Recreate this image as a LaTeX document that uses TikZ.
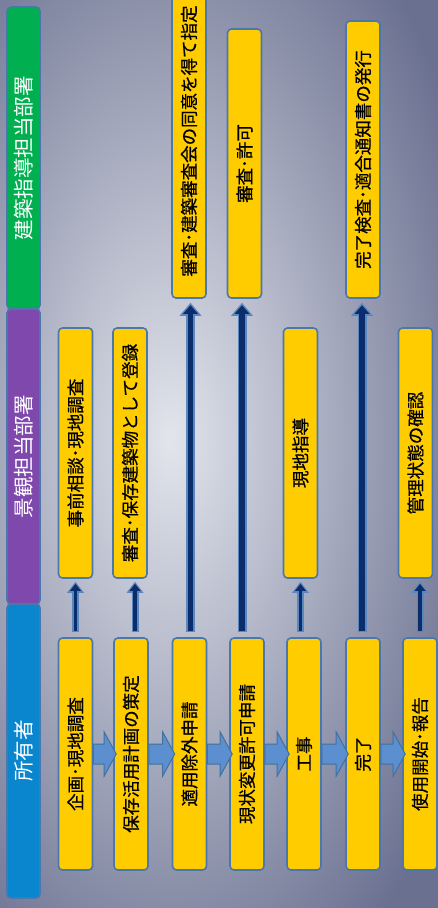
\documentclass[tikz,border=0pt]{standalone}
\usepackage{fontspec}
\usepackage{graphicx}
\setmainfont{Noto Sans CJK JP}
\newfontfamily\boxfam{Noto Sans CJK JP}[FakeBold=0.6]
\usetikzlibrary{arrows.meta,calc}

\definecolor{bgin}{HTML}{E2E5EC}
\definecolor{bgout}{HTML}{6A7090}
\definecolor{boxfill}{HTML}{FFCC00}
\definecolor{boxedge}{HTML}{4A77AC}
\definecolor{lanegreen}{HTML}{00B050}
\definecolor{lanepurple}{HTML}{7F48AD}
\definecolor{laneblue}{HTML}{0A86CF}
\definecolor{blkfill}{HTML}{5B8FCF}
\definecolor{blkedge}{HTML}{41719C}
\definecolor{arrowrim}{HTML}{5A87C0}
\definecolor{arrowcore}{HTML}{0C2D6B}

\newcommand{\boxfont}{\boxfam\fontsize{17.5}{19}\selectfont}
\newcommand{\lanefont}{\fontsize{20.5}{22}\selectfont}

\begin{document}
\begin{tikzpicture}[x=1pt, y=-1pt,
    box/.style={draw=boxedge, line width=1.6pt, fill=boxfill, rounded corners=4pt,
      inner sep=0pt, minimum width=34pt, font=\boxfont},
    lane/.style={draw=boxedge, line width=1.6pt, rounded corners=4pt, inner sep=0pt,
      minimum width=33pt, text=white, font=\lanefont},
    blockarrow/.style={fill=blkfill, draw=blkedge, line width=1pt},
    rimshort/.style={arrowrim, line width=7pt, shorten <=5pt, shorten >=3pt,
      -{Triangle[width=17pt, length=11pt, line width=0pt]}},
    coreshort/.style={arrowcore, line width=3.5pt, shorten <=6.5pt, shorten >=5pt,
      -{Triangle[width=11pt, length=7pt, line width=0pt]}},
    rimlong/.style={arrowrim, line width=9pt, shorten <=5pt, shorten >=4pt,
      -{Triangle[width=22pt, length=13pt, line width=0pt]}},
    corelong/.style={arrowcore, line width=5.5pt, shorten <=6.5pt, shorten >=6.5pt,
      -{Triangle[width=15pt, length=8.5pt, line width=0pt]}}]

    \useasboundingbox (0,0) rectangle (438,908);
    % background
    \begin{scope}
      \clip (0,0) rectangle (438,908);
      \shade[inner color=bgin, outer color=bgout] (-160,-180) rectangle (500,1060);
    \end{scope}

    % lanes
    \node[lane, fill=lanegreen, minimum height=302pt] (kenchiku) at (23.5,158) {\rotatebox{90}{建築指導担当部署}};
    \node[lane, fill=lanepurple, minimum height=295pt] (keikan) at (23.5,456.5) {\rotatebox{90}{景観担当部署}};
    \node[lane, fill=laneblue, minimum height=294pt] (shoyu) at (23.5,751) {\rotatebox{90}{所有者}};

    % owner row
    \node[box, minimum height=232pt] (b1) at (75.5,754) {\rotatebox{90}{企画･現地調査}};
    \node[box, minimum height=232pt] (b2) at (131,754) {\rotatebox{90}{保存活用計画の策定}};
    \node[box, minimum height=232pt] (b3) at (189.5,754) {\rotatebox{90}{適用除外申請}};
    \node[box, minimum height=232pt] (b4) at (247,754) {\rotatebox{90}{現状変更許可申請}};
    \node[box, minimum height=232pt] (b5) at (304,754) {\rotatebox{90}{工事}};
    \node[box, minimum height=232pt] (b6) at (363,754) {\rotatebox{90}{完了}};
    \node[box, minimum height=232pt] (b7) at (420,754) {\rotatebox{90}{使用開始･報告}};

    % landscape row
    \node[box, minimum height=250pt] (m1) at (75.5,453) {\rotatebox{90}{事前相談･現地調査}};
    \node[box, minimum height=250pt] (m2) at (130,453) {\rotatebox{90}{審査･保存建築物として登録}};
    \node[box, minimum height=250pt] (m5) at (300.5,453) {\rotatebox{90}{現地指導}};
    \node[box, minimum height=250pt] (m7) at (415.5,453) {\rotatebox{90}{管理状態の確認}};

    % building row
    \node[box, minimum height=314pt] (t3) at (189,141) {\rotatebox{90}{審査･建築審査会の同意を得て指定}};
    \node[box, minimum height=269pt] (t4) at (244.5,163.5) {\rotatebox{90}{審査･許可}};
    \node[box, minimum height=277pt] (t6) at (363,159.5) {\rotatebox{90}{完了検査･適合通知書の発行}};

    % flow of the owner
    \foreach \a/\b in {b1/b2, b2/b3, b3/b4, b4/b5, b5/b6, b6/b7}
      \draw[blockarrow] ($(\a.east)+(0,-10)$) -- ($(\b.west)+(-9,-10)$) -- ($(\b.west)+(-9,-22)$)
        -- ($(\b.west)+(3,0)$) -- ($(\b.west)+(-9,22)$) -- ($(\b.west)+(-9,10)$)
        -- ($(\a.east)+(0,10)$) -- cycle;

    % up to the departments
    \foreach \a/\b/\dx in {b1/m1/0, b2/m2/4, b5/m5/-3.5, b7/m7/0} {
      \draw[rimshort] ([xshift=\dx pt]\a.north) -- ([xshift=\dx pt]\a.north |- \b.south);
      \draw[coreshort] ([xshift=\dx pt]\a.north) -- ([xshift=\dx pt]\a.north |- \b.south);
    }
    \foreach \a/\b/\dx in {b3/t3/1, b4/t4/-5, b6/t6/-1} {
      \draw[rimlong] ([xshift=\dx pt]\a.north) -- ([xshift=\dx pt]\a.north |- \b.south);
      \draw[corelong] ([xshift=\dx pt]\a.north) -- ([xshift=\dx pt]\a.north |- \b.south);
    }
\end{tikzpicture}
\end{document}
